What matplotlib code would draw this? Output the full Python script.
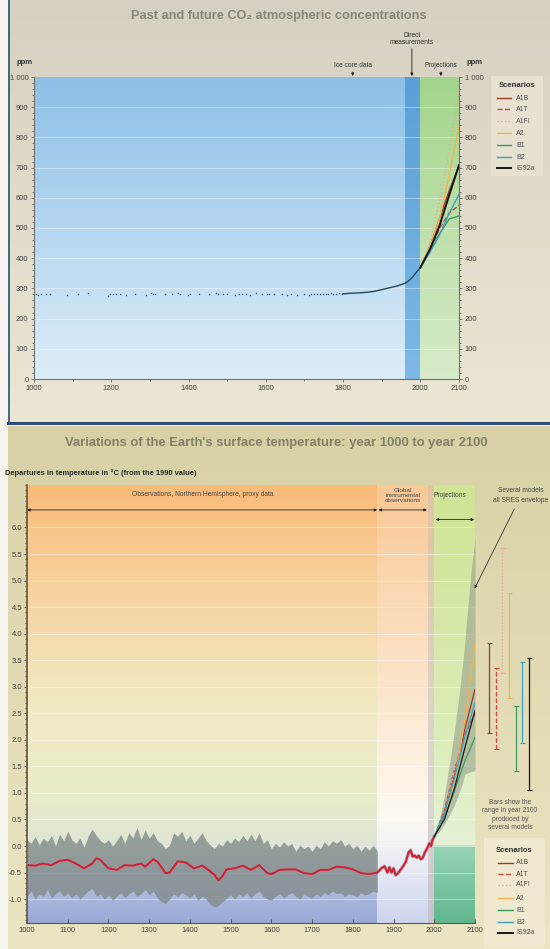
import numpy as np
import matplotlib.pyplot as plt
from matplotlib.colors import to_rgb
from matplotlib.patches import Rectangle
from matplotlib.ticker import MultipleLocator, FuncFormatter

plt.rcParams['font.family'] = ['Liberation Sans', 'DejaVu Sans']
plt.rcParams['axes.unicode_minus'] = False

# scenarios (shared by both panels)
scenarios = ['A1B', 'A1T', 'A1FI', 'A2', 'B1', 'B2', 'IS92a']
sc_colors = ['#a3352b', '#d2473a', '#e9a9a0', '#f0b550', '#3b9a5d', '#3a9fc0', '#161616']
sc_styles = ['-', '--', ':', '-', '-', '-', '-']
sc_widths = [1.0, 1.0, 1.0, 1.0, 1.0, 1.0, 1.4]

# CO2 panel
ice_years = [1005, 1010, 1018, 1030, 1042, 1085, 1115, 1140, 1192, 1198,
             1205, 1212, 1222, 1238, 1262, 1290, 1302, 1308, 1314, 1340,
             1358, 1372, 1378, 1398, 1404, 1428, 1452, 1470, 1476, 1488,
             1500, 1520, 1530, 1538, 1548, 1560, 1575, 1590, 1602, 1608,
             1620, 1642, 1655, 1664, 1680, 1700, 1712, 1718, 1724, 1732,
             1740, 1748, 1755, 1762, 1768, 1775, 1782, 1790, 1796]
ice_ppm = [282, 279, 281, 280, 283, 279, 281, 284, 276, 282,
           280, 283, 281, 279, 283, 278, 284, 283, 282, 280,
           282, 284, 281, 279, 283, 282, 281, 284, 282, 280,
           281, 279, 283, 281, 282, 279, 284, 281, 280, 283,
           282, 280, 278, 281, 279, 281, 279, 280, 282, 281,
           283, 282, 281, 283, 284, 282, 283, 284, 283]
meas_years = [1800, 1820, 1840, 1860, 1880, 1900, 1920, 1940, 1960, 1970, 1980, 1990, 2000]
meas_ppm = [282, 284, 285, 287, 290, 296, 302, 308, 317, 325, 338, 354, 369]
proj_years = [2000, 2025, 2050, 2075, 2100]
co2_proj = [[369, 440, 532, 625, 703],
            [369, 425, 500, 550, 575],
            [369, 450, 590, 760, 958],
            [369, 440, 532, 680, 836],
            [369, 425, 482, 530, 540],
            [369, 420, 478, 550, 611],
            [369, 430, 509, 610, 709]]

# temperature panel
proxy_years = list(range(1000, 1861, 10))
proxy_hi = [0.12, 0.05, 0.18, 0.02, 0.15, 0.08, 0.20, 0.00, 0.22, 0.10,
            0.28, 0.12, 0.05, 0.15, -0.02, 0.18, 0.32, 0.20, 0.10, 0.05,
            0.12, 0.00, 0.10, 0.22, 0.05, 0.25, 0.15, 0.35, 0.12, 0.30,
            0.15, 0.25, 0.10, 0.05, -0.05, 0.02, 0.25, 0.18, 0.28, 0.10,
            0.20, 0.05, 0.15, 0.25, 0.10, 0.02, -0.05, 0.05, 0.00, 0.12,
            0.05, 0.15, 0.08, 0.20, 0.10, 0.22, 0.10, 0.25, 0.05, 0.12,
            -0.05, 0.05, -0.02, 0.08, 0.00, 0.05, -0.10, 0.02, -0.05, 0.00,
            -0.10, 0.02, -0.05, 0.08, 0.00, 0.10, 0.05, 0.12, 0.00, 0.05,
            -0.05, 0.02, -0.10, 0.00, -0.08, 0.02, -0.10]
proxy_lo = [-0.95, -0.85, -1.00, -0.90, -0.95, -0.82, -0.98, -0.90, -0.85, -0.95,
            -0.88, -0.98, -0.90, -1.00, -0.92, -0.85, -0.80, -0.95, -0.90, -1.00,
            -0.92, -1.02, -0.95, -0.88, -0.98, -0.90, -0.85, -0.95, -0.90, -0.82,
            -0.92, -0.85, -0.98, -1.05, -1.08, -1.00, -0.90, -0.95, -0.88, -0.92,
            -0.98, -0.90, -1.02, -0.95, -1.00, -1.10, -1.15, -1.12, -1.05, -0.98,
            -0.92, -1.00, -0.90, -0.95, -0.88, -0.98, -0.90, -0.85, -0.95, -1.00,
            -1.02, -0.95, -0.90, -0.98, -0.92, -0.88, -0.95, -1.00, -0.90, -0.95,
            -0.98, -0.90, -0.95, -0.88, -0.92, -0.85, -0.90, -0.88, -0.95, -0.90,
            -0.92, -0.95, -0.88, -0.92, -0.90, -0.85, -0.88]
smooth_years = [1000, 1020, 1040, 1060, 1080, 1100, 1120, 1140, 1160, 1170, 1180,
                1200, 1220, 1240, 1260, 1280, 1290, 1310, 1320, 1340, 1350, 1370,
                1390, 1410, 1430, 1440, 1460, 1470, 1480, 1490, 1510, 1530, 1550,
                1570, 1590, 1600, 1620, 1640, 1660, 1680, 1700, 1720, 1740, 1760,
                1780, 1800, 1820, 1840, 1860, 1870, 1878, 1885, 1890, 1895, 1900,
                1905, 1910, 1920, 1930, 1937, 1942, 1947, 1952, 1957, 1962, 1967,
                1972, 1977, 1982, 1988, 1992, 1995, 2000]
smooth_temp = [-0.36, -0.37, -0.33, -0.36, -0.28, -0.26, -0.33, -0.42, -0.33, -0.23, -0.26,
               -0.42, -0.45, -0.36, -0.37, -0.33, -0.39, -0.25, -0.29, -0.51, -0.50, -0.29,
               -0.31, -0.42, -0.37, -0.42, -0.54, -0.65, -0.57, -0.44, -0.42, -0.37, -0.45,
               -0.36, -0.51, -0.53, -0.45, -0.44, -0.44, -0.51, -0.53, -0.45, -0.45, -0.39,
               -0.40, -0.44, -0.51, -0.53, -0.50, -0.42, -0.38, -0.50, -0.40, -0.50, -0.42,
               -0.55, -0.52, -0.42, -0.30, -0.12, -0.08, -0.20, -0.18, -0.22, -0.18, -0.25,
               -0.22, -0.12, -0.05, 0.05, 0.00, 0.10, 0.18]
env_years = [2000, 2010, 2020, 2030, 2040, 2050, 2060, 2070, 2075, 2080, 2090, 2100]
env_hi = [0.18, 0.42, 0.75, 1.20, 1.68, 2.20, 2.80, 3.45, 3.85, 4.30, 5.15, 5.80]
env_lo = [0.18, 0.25, 0.35, 0.48, 0.62, 0.78, 0.98, 1.20, 1.35, 1.37, 1.40, 1.42]
temp_proj = [[0.18, 0.62, 1.35, 2.20, 2.95],
             [0.18, 0.68, 1.45, 2.10, 2.50],
             [0.18, 0.60, 1.45, 2.60, 4.40],
             [0.18, 0.55, 1.25, 2.35, 3.80],
             [0.18, 0.55, 1.05, 1.60, 2.05],
             [0.18, 0.62, 1.30, 2.05, 2.70],
             [0.18, 0.50, 1.10, 1.85, 2.55]]
range_lo = [2.13, 1.82, 3.26, 2.79, 1.42, 1.94, 1.06]
range_hi = [3.82, 3.35, 5.62, 4.76, 2.64, 3.47, 3.55]

W, H = 550, 949


def vgrad(ax, x0, x1, ya, yb, stops, cols, z=0):
    yy = np.linspace(ya, yb, 400)
    rgb = np.array([to_rgb(c) for c in cols])
    img = np.stack([np.interp(yy, stops, rgb[:, k]) for k in range(3)], axis=-1)[:, None, :]
    ax.imshow(img, extent=[x0, x1, ya, yb], origin='lower', aspect='auto',
              zorder=z, interpolation='bilinear')


fig = plt.figure(figsize=(W / 100, H / 100), dpi=100)

# panel backgrounds (pixel coordinates)
bg = fig.add_axes([0, 0, 1, 1])
bg.axis('off')
vgrad(bg, 0, W, 0, H, [0, H], ['#f4f3ee', '#f4f3ee'])
vgrad(bg, 8, W, 0, 423, [0, 423], ['#d5d0c1', '#ece7d4'])
vgrad(bg, 8, W, 426, H, [426, H], ['#d8d1a6', '#ece5c3'])
bg.plot([8.5, 8.5], [0, 423], color='#2f4f7a', lw=1.2)
bg.plot([8, W], [423, 423], color='#2f4f7a', lw=2.2)

bg.text(279, 16, 'Past and future CO\u2082 atmospheric concentrations', ha='center', va='center',
        fontsize=9.2, fontweight='bold', color='#85857a')
bg.text(276, 443, "Variations of the Earth's surface temperature: year 1000 to year 2100",
        ha='center', va='center', fontsize=9.4, fontweight='bold', color='#808066')
bg.text(25, 62, 'ppm', ha='center', va='center', fontsize=5.5, fontweight='bold', color='#333')
bg.text(475, 62, 'ppm', ha='center', va='center', fontsize=5.5, fontweight='bold', color='#333')
bg.text(5, 473, 'Departures in temperature in \u00b0C (from the 1990 value)', ha='left', va='center',
        fontsize=5.4, fontweight='bold', color='#2a2a2a')
bg.text(510, 815, 'Bars show the\nrange in year 2100\nproduced by\nseveral models', ha='center',
        va='center', fontsize=4.8, color='#555', linespacing=1.25)


def scen_legend(x, y, w, h, fc, title_y, ys, lx0, lx1, tx, fs):
    bg.add_patch(Rectangle((x, y), w, h, facecolor=fc, edgecolor='none', zorder=2))
    bg.text(x + w / 2, title_y, 'Scenarios', ha='center', va='center', fontsize=fs + 0.6,
            fontweight='bold', color='#333', zorder=3)
    for i, name in enumerate(scenarios):
        bg.plot([lx0, lx1], [ys[i], ys[i]], color=sc_colors[i], ls=sc_styles[i],
                lw=sc_widths[i], zorder=3)
        bg.text(tx, ys[i], name, va='center', fontsize=fs, color='#555', zorder=3)


scen_legend(491, 76, 52, 100, '#e6e1d1', 85, [98, 109, 121, 133, 145, 157, 168], 497, 511, 516, 5)
scen_legend(484, 838, 61, 110, '#efe9cf', 851, [863, 874, 885, 898, 910, 922, 933], 498, 513, 516, 5)
bg.set_xlim(0, W)
bg.set_ylim(H, 0)

# ---- CO2 panel ----
ax1 = fig.add_axes([34 / W, 1 - 379 / H, 425 / W, 302 / H])
ax1.set_facecolor('none')
vgrad(ax1, 1000, 1960, 0, 1000, [0, 1000], ['#ddeef9', '#8dbfe7'])
vgrad(ax1, 1960, 2000, 0, 1000, [0, 1000], ['#7cb9e6', '#5b9fd8'])
vgrad(ax1, 2000, 2100, 0, 1000, [0, 1000], ['#d8ebca', '#a2d58b'])
for v in range(100, 1000, 100):
    ax1.axhline(v, color='white', lw=0.7, alpha=0.4, zorder=1)
ax1.scatter(ice_years, ice_ppm, s=1.2, color='#34505e', lw=0, zorder=3)
ax1.plot(meas_years, meas_ppm, color='#24485c', lw=1.0, zorder=3)
for i in range(len(scenarios)):
    ax1.plot(proj_years, co2_proj[i], color=sc_colors[i], ls=sc_styles[i], lw=sc_widths[i],
             zorder=5 if i == 6 else 4)
ax1.set_xlim(1000, 2100)
ax1.set_ylim(0, 1000)
ax1.set_xticks([1000, 1200, 1400, 1600, 1800, 2000, 2100])
ax1.xaxis.set_minor_locator(MultipleLocator(100))
ax1.yaxis.set_major_locator(MultipleLocator(100))
ax1.yaxis.set_minor_locator(MultipleLocator(20))
ax1.yaxis.set_major_formatter(FuncFormatter(lambda v, p: '1 000' if v == 1000 else f'{v:.0f}'))
ax1.tick_params(which='both', direction='out', color='#666', labelsize=5.5, labelcolor='#444',
                right=True, labelright=True, length=2.5, width=0.6, pad=1.5)
ax1.tick_params(which='minor', length=1.5)
ax1.spines['top'].set_visible(False)
for s in ['left', 'bottom', 'right']:
    ax1.spines[s].set_color('#707070')
    ax1.spines[s].set_linewidth(0.8)

arr = dict(arrowstyle='-|>', color='#222', lw=0.6, mutation_scale=4, shrinkA=0, shrinkB=0)
ax1.annotate('Ice core data', xy=(1825, 1003), xytext=(1825, 1026), ha='center', va='bottom',
             fontsize=4.8, color='#333', arrowprops=arr, annotation_clip=False)
ax1.annotate('Direct\nmeasurements', xy=(1978, 1003), xytext=(1978, 1103), ha='center', va='bottom',
             fontsize=4.8, color='#333', arrowprops=arr, annotation_clip=False, linespacing=1.0)
ax1.annotate('Projections', xy=(2053, 1003), xytext=(2053, 1026), ha='center', va='bottom',
             fontsize=4.8, color='#333', arrowprops=arr, annotation_clip=False)

# ---- temperature panel ----
ax2 = fig.add_axes([27 / W, 1 - 923 / H, 448 / W, 438 / H])
ax2.set_facecolor('none')
y0, y1 = -1.45, 6.8
vgrad(ax2, 1000, 1860, y0, y1, [y0, -0.5, 0.0, 1.0, 2.5, 4.5, y1],
      ['#98a9d6', '#bcc5e3', '#dfe5d6', '#e9edc8', '#f1ebc6', '#f6d6a4', '#f9bb78'])
vgrad(ax2, 1860, 1985, y0, y1, [y0, -0.5, 0.5, 2.5, y1],
      ['#cdd4ef', '#e6e9f5', '#fdfaf2', '#fce9d2', '#f9c996'])
vgrad(ax2, 1985, 2000, y0, y1, [y0, 1.0, y1], ['#c6c3cf', '#ded8d2', '#e0c4a6'])
vgrad(ax2, 2000, 2100, y0, y1, [y0, -0.01, 0.01, 2.0, y1],
      ['#62b78f', '#96d3b4', '#e6f2d6', '#dcedb8', '#cfe495'])
for v in np.arange(-1.0, 6.5, 0.5):
    ax2.axhline(v, color='white', lw=0.6, alpha=0.5, zorder=1)

ax2.fill_between(proxy_years, proxy_lo, proxy_hi, color='#828c8a', alpha=0.8, lw=0, zorder=2)
ax2.plot(smooth_years, smooth_temp, color='#9aa0a0', lw=2.6, alpha=0.6, zorder=3)
ax2.plot(smooth_years, smooth_temp, color='#d41f35', lw=1.5, zorder=4)
ax2.fill_between(env_years, env_lo, env_hi, color='#8f9a8a', alpha=0.55, lw=0, zorder=2)
for i in range(len(scenarios)):
    ax2.plot(proj_years, temp_proj[i], color=sc_colors[i], ls=sc_styles[i], lw=0.9,
             zorder=5 if i == 6 else 4)

ax2.set_xlim(1000, 2100)
ax2.set_ylim(y0, y1)
ax2.xaxis.set_major_locator(MultipleLocator(100))
ax2.set_yticks(np.arange(-1.0, 6.01, 0.5))
ax2.yaxis.set_minor_locator(MultipleLocator(0.1))
ax2.yaxis.set_major_formatter(FuncFormatter(lambda v, p: f'{v:.1f}'))
ax2.tick_params(axis='x', direction='in', length=3, width=0.7, color='#555', labelsize=5.5,
                labelcolor='#444', pad=3)
ax2.tick_params(axis='y', which='both', direction='out', color='#6b5b45', labelsize=5.5,
                labelcolor='#444', length=2.5, width=0.7, pad=1)
ax2.tick_params(axis='y', which='minor', length=1.5)
ax2.spines['top'].set_visible(False)
ax2.spines['right'].set_visible(False)
ax2.spines['left'].set_color('#6b5b45')
ax2.spines['left'].set_linewidth(1.3)
ax2.spines['bottom'].set_color('#555')
ax2.spines['bottom'].set_linewidth(0.8)

darr = dict(arrowstyle='<|-|>', color='#222', lw=0.6, mutation_scale=4, shrinkA=0, shrinkB=0)
ax2.annotate('', xy=(1000, 6.33), xytext=(1860, 6.33), arrowprops=darr)
ax2.annotate('', xy=(1863, 6.33), xytext=(1982, 6.33), arrowprops=darr)
ax2.annotate('', xy=(2003, 6.15), xytext=(2098, 6.15), arrowprops=darr)
ax2.text(1432, 6.62, 'Observations, Northern Hemisphere, proxy data', ha='center', va='center',
         fontsize=4.8, color='#444')
ax2.text(1923, 6.6, 'Global\ninstrumental\nobservations', ha='center', va='center',
         fontsize=4.6, color='#444', linespacing=0.95)
ax2.text(2038, 6.6, 'Projections', ha='center', va='center', fontsize=4.8, color='#444')
ax2.annotate('Several models\nall SRES envelope', xy=(2099, 4.85), xytext=(2213, 6.6),
             ha='center', va='center', fontsize=4.8, color='#444', linespacing=1.5,
             arrowprops=dict(arrowstyle='-|>', color='#333', lw=0.6, mutation_scale=4,
                             shrinkA=2, shrinkB=0),
             annotation_clip=False)

# range bars in year 2100
ax3 = fig.add_axes([486 / W, 1 - 923 / H, 46 / W, 438 / H])
ax3.axis('off')
for i in range(len(scenarios)):
    mid = (range_lo[i] + range_hi[i]) / 2
    eb = ax3.errorbar(i, mid, yerr=(range_hi[i] - range_lo[i]) / 2, fmt='none',
                      ecolor=sc_colors[i], elinewidth=0.9, capsize=1.8, capthick=0.8)
    eb[2][0].set_linestyle(sc_styles[i])
ax3.set_xlim(-0.5, 6.5)
ax3.set_ylim(y0, y1)

fig.savefig('out.png', dpi=100)
